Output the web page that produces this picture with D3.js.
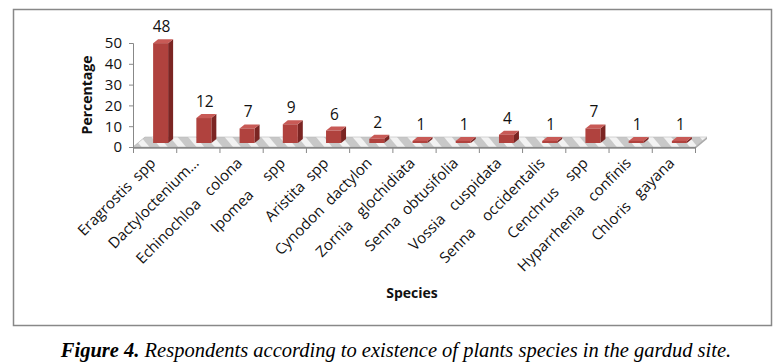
<!DOCTYPE html>
<html>
<head>
<meta charset="utf-8">
<script src="https://cdn.jsdelivr.net/npm/d3@7"></script>
<style>
  body { margin: 0; background: #fff; }
  text { white-space: pre; }
</style>
</head>
<body>
<div id="viz-container"></div>
<script>
let species = ["Eragrostis  spp", "Dactyloctenium…", "Echinochloa   colona", "Ipomea     spp",
  "Aristita  spp", "Cynodon  dactylon", "Zornia   glochidiata", "Senna  obtusifolia",
  "Vossia   cuspidata", "Senna    occidentalis", "Cenchrus    spp", "Hyparrhenia   confinis",
  "Chloris   gayana"];
let percentage = [48, 12, 7, 9, 6, 2, 1, 1, 4, 1, 7, 1, 1];
let yTicks = [0, 10, 20, 30, 40, 50];

let data = species.map((s, i) => ({name: s, value: percentage[i]}));

let viz = d3.select("#viz-container")
  .append("svg")
    .attr("width", 783)
    .attr("height", 363)
    .style("font-family", "'Open Sans', sans-serif")
;

// frame
viz.append("rect")
  .attr("x", 13.5).attr("y", 9.5)
  .attr("width", 758).attr("height", 316)
  .attr("fill", "none").attr("stroke", "#888").attr("stroke-width", 1.5);

let x = d3.scaleBand().domain(species).range([133, 695]);
let xi = d3.scaleLinear().domain([0, species.length]).range([133, 695]);
let y = d3.scaleLinear().domain([0, 50]).range([147, 43]);

let dx = 12, dy = -10;  // floor depth

// floor pattern
let defs = viz.append("defs");
let pat = defs.append("pattern")
  .attr("id", "floorPat").attr("patternUnits", "userSpaceOnUse")
  .attr("width", 14).attr("height", 14)
  .attr("patternTransform", "rotate(-40)");
pat.append("rect").attr("width", 14).attr("height", 14).attr("fill", "#c8c8c8");
pat.append("rect").attr("width", 6).attr("height", 14).attr("fill", "#f2f2f2");

// floor
let f0 = xi(0), f1 = xi(species.length), fy = y(0);
viz.append("path")
  .attr("d", `M${f0},${fy + 2} L${f1},${fy + 2} L${f1 + dx},${fy + dy + 2} L${f1 + dx},${fy + dy} L${f0 + dx},${fy + dy} L${f0},${fy} Z`)
  .attr("fill", "#a9a9a9");
viz.append("path")
  .attr("d", `M${f0},${fy} L${f1},${fy} L${f1 + dx},${fy + dy} L${f0 + dx},${fy + dy} Z`)
  .attr("fill", "url(#floorPat)").attr("stroke", "#bbb").attr("stroke-width", 0.6);

// y axis
viz.append("g")
  .attr("transform", "translate(133,0)")
  .call(d3.axisLeft(y).tickValues(yTicks).tickSize(4).tickPadding(7))
  .call(g => g.selectAll("line, path").attr("stroke", "#888"))
  .call(g => g.selectAll("text").attr("font-size", 15).attr("fill", "#111").attr("font-family", "'Open Sans', sans-serif"));

// x axis ticks
viz.append("g")
  .attr("transform", `translate(0,${fy})`)
  .call(d3.axisBottom(xi).tickValues(d3.range(species.length + 1)).tickFormat("").tickSize(6))
  .call(g => g.selectAll("line, path").attr("stroke", "#888"));

// bars
let bw = 15, bdx = 5, bdy = -4;
let bars = viz.append("g").selectAll("g").data(data).enter().append("g");

function bx(d) { return x(d.name) + x.bandwidth() / 2 - bw / 2 + 6; }
function by0() { return fy - 4; }
function bh(d) { return fy - y(d.value); }

// side
bars.append("path")
  .attr("d", d => {
    let l = bx(d) + bw, b = by0(), t = b - bh(d);
    return `M${l},${b} L${l + bdx},${b + bdy} L${l + bdx},${t + bdy} L${l},${t} Z`;
  })
  .attr("fill", "#7b2523");
// top
bars.append("path")
  .attr("d", d => {
    let l = bx(d), t = by0() - bh(d);
    return `M${l},${t} L${l + bw},${t} L${l + bw + bdx},${t + bdy} L${l + bdx},${t + bdy} Z`;
  })
  .attr("fill", "#c85a56");
// front
bars.append("rect")
  .attr("x", bx)
  .attr("y", d => by0() - bh(d))
  .attr("width", bw)
  .attr("height", bh)
  .attr("fill", "#b0423e");

// value labels
bars.append("text")
  .attr("x", d => bx(d) + bw / 2 + 1)
  .attr("y", d => by0() - bh(d) - 11)
  .attr("text-anchor", "middle")
  .attr("font-size", 15.5)
  .attr("fill", "#111")
  .text(d => d.value);

// category labels
viz.append("g").selectAll("text").data(species).enter()
  .append("text")
    .attr("transform", d => `translate(${x(d) + x.bandwidth() / 2 + 2},${fy + 17}) rotate(-45)`)
    .attr("text-anchor", "end")
    .attr("font-size", 15)
    .attr("fill", "#111")
    .text(d => d);

// axis titles
viz.append("text")
  .attr("transform", "translate(92,95) rotate(-90)")
  .attr("text-anchor", "middle")
  .attr("font-size", 14).attr("font-weight", "bold").attr("fill", "#111")
  .text("Percentage");

viz.append("text")
  .attr("x", 412).attr("y", 298)
  .attr("text-anchor", "middle")
  .attr("font-size", 14).attr("font-weight", "bold").attr("fill", "#111")
  .text("Species");

// caption
let cap = viz.append("text")
  .attr("x", 396).attr("y", 357)
  .attr("text-anchor", "middle")
  .attr("font-family", "'Liberation Serif', serif")
  .attr("font-size", 20.5).attr("font-style", "italic").attr("fill", "#000");
cap.append("tspan").attr("font-weight", "bold").text("Figure 4.");
cap.append("tspan").text(" Respondents according to existence of plants species in the gardud site.");
</script>
</body>
</html>
